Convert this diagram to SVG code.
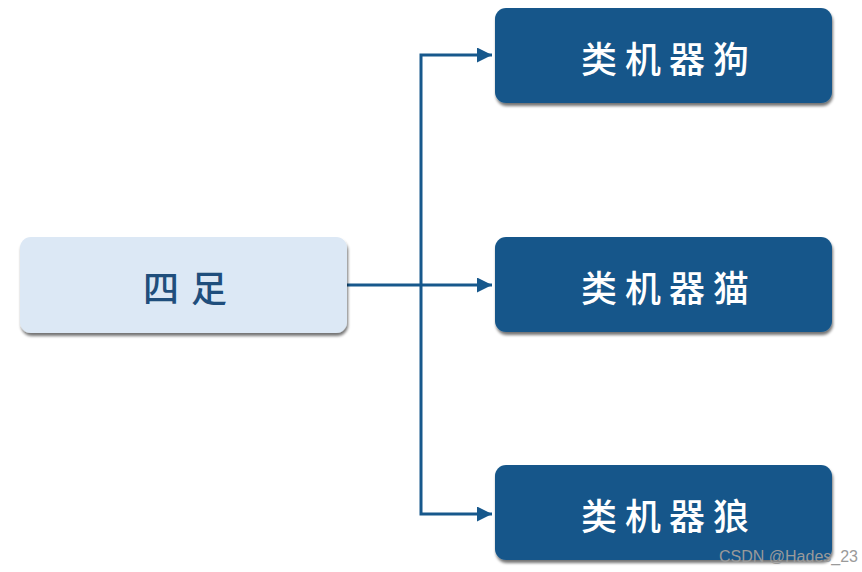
<svg xmlns="http://www.w3.org/2000/svg" width="862" height="572" viewBox="0 0 862 572">
<defs>
<filter id="sh" x="-10%" y="-10%" width="125%" height="135%">
<feGaussianBlur in="SourceAlpha" stdDeviation="1.6"/>
<feOffset dx="1" dy="3" result="b"/>
<feComponentTransfer><feFuncA type="linear" slope="0.55"/></feComponentTransfer>
<feMerge><feMergeNode/><feMergeNode in="SourceGraphic"/></feMerge>
</filter>
<marker id="arr" viewBox="0 0 10 10" refX="10" refY="5" markerWidth="5" markerHeight="5" orient="auto" markerUnits="strokeWidth">
<path d="M0,0 L10,5 L0,10 z" fill="#17588c"/>
</marker>
</defs>
<style>
.dark{fill:#16578a;filter:url(#sh)}
.light{fill:#dce8f5;filter:url(#sh)}
.t{font-family:"Noto Sans CJK SC","Noto Sans CJK TC",sans-serif;font-weight:500;font-size:36px;text-anchor:middle;dominant-baseline:central;letter-spacing:8px}
.tw{fill:#ffffff}
.tb{fill:#1f4e7c;letter-spacing:12px}
.ln{fill:none;stroke:#17588c;stroke-width:3}
</style>
<rect width="862" height="572" fill="#ffffff"/>
<g id="connectors">
<line class="ln" x1="347" y1="285" x2="492" y2="285" marker-end="url(#arr)"/>
<polyline class="ln" points="421,285 421,55 492,55" marker-end="url(#arr)"/>
<polyline class="ln" points="421,285 421,514 492,514" marker-end="url(#arr)"/>
</g>
<g id="node-sizu">
<rect class="light" x="20" y="237" width="327" height="96" rx="11"/>
<text class="t tb" x="191" y="286">四足</text>
</g>
<g id="node-dog">
<rect class="dark" x="495" y="8" width="337" height="95" rx="11"/>
<text class="t tw" x="669" y="57">类机器狗</text>
</g>
<g id="node-cat">
<rect class="dark" x="495" y="237" width="337" height="95" rx="11"/>
<text class="t tw" x="669" y="286">类机器猫</text>
</g>
<g id="node-wolf">
<rect class="dark" x="495" y="465" width="337" height="95" rx="11"/>
<text class="t tw" x="669" y="514">类机器狼</text>
</g>
<text x="858" y="562" font-family="Liberation Sans, Arial, sans-serif" font-size="16" fill="#9a9a9a" text-anchor="end">CSDN @Hades_23</text>
</svg>
